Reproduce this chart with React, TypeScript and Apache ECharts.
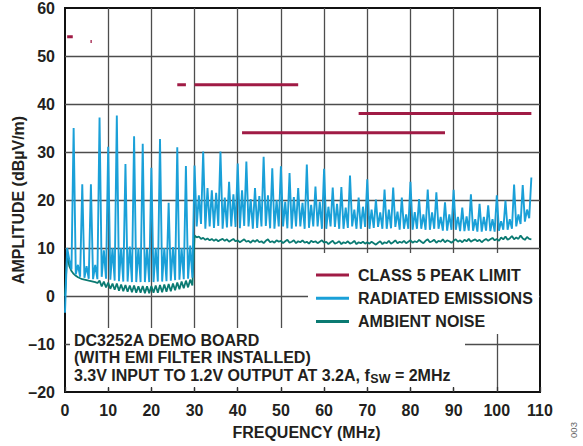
import React, { useEffect, useRef } from "react";
import * as echarts from "echarts";

const FONT = '"Liberation Sans", Arial, Helvetica, sans-serif';
const TEXT_COLOR = "#231f20";
const COLOR_LIMIT = "#a01b45";
const COLOR_EMISSIONS = "#1aa0d8";
const COLOR_AMBIENT = "#0a7a72";

const FREQ_STEP = 0.5; // MHz between samples
const SPLIT_FREQ = 30; // MHz where second data block starts

const X_TICKS = { min: 0, max: 110, interval: 10 };
const Y_TICKS = { min: -20, max: 60, interval: 10 };

// Radiated emissions, 0 .. 29.5 MHz
const EMISSIONS_0_30 = [
  -3.5, 10, 7.5, 5.5, 35, 4.5, 6.5, 4.0,
  23.3, 3.8, 6.2, 3.6, 23.3, 3.5, 6.5, 3.5,
  37.2, 4, 9.5, 3.6, 31.1, 3.4, 10, 3.2,
  37.6, 3.1, 10, 3.0, 27.5, 3.0, 10.3, 2.9,
  33.3, 2.9, 10, 2.9, 31.7, 2.9, 9.8, 2.9,
  26.7, 2.9, 10, 3.0, 32.7, 3.0, 10, 3.1,
  19.4, 3.2, 10.2, 3.3, 31, 3.4, 10, 3.5,
  27.1, 3.6, 10.5, 3.8,
];

// Radiated emissions, 30 .. 108 MHz
const EMISSIONS_30_108 = [
  27.2, 14.5, 21.0, 15.0,
  30.1, 14.0, 22.5, 14.5,
  22.0, 14.2, 21.5, 14.6,
  30.1, 14.0, 20.5, 14.3,
  23.8, 14.5, 21.2, 14.4,
  27.6, 14.1, 22.0, 14.6,
  28.0, 14.5, 20.2, 14.0,
  22.5, 14.2, 20.8, 14.5,
  29.0, 14.6, 21.0, 14.1,
  26.6, 14.0, 20.0, 14.5,
  27.0, 14.5, 19.6, 14.1,
  25.6, 14.0, 20.6, 14.5,
  22.5, 14.5, 19.4, 14.0,
  27.4, 14.2, 19.0, 14.5,
  22.8, 14.5, 19.6, 14.0,
  26.5, 14.0, 18.6, 14.5,
  22.6, 14.4, 19.2, 14.0,
  22.7, 14.0, 18.4, 14.2,
  25.1, 14.5, 18.0, 14.0,
  20.5, 14.0, 18.6, 14.4,
  24.3, 14.0, 18.0, 14.2,
  20.1, 14.4, 17.4, 14.0,
  22.2, 14.0, 18.0, 14.1,
  22.6, 14.4, 17.6, 13.8,
  20.5, 14.0, 17.0, 14.0,
  23.8, 13.8, 17.5, 14.0,
  20.2, 14.0, 17.0, 13.8,
  22.2, 13.8, 17.4, 14.0,
  21.6, 14.0, 16.5, 13.6,
  19.5, 13.6, 17.0, 13.8,
  22.1, 13.8, 16.5, 13.5,
  18.4, 13.5, 16.6, 13.6,
  21.2, 13.6, 16.0, 13.4,
  19.2, 13.4, 16.5, 13.6,
  18.9, 13.5, 16.0, 13.4,
  21.0, 13.6, 15.6, 13.8,
  19.9, 13.8, 16.0, 14.0,
  23.2, 14.5, 17.0, 15.0,
  23.1, 15.5, 18.0, 16.2,
  24.7,
];

// Ambient noise, 0 .. 29.5 MHz
const AMBIENT_0_30 = [
  0, 8.8, 6.2, 5.2, 4.6, 4.2, 3.9, 3.7,
  3.5, 3.4, 3.3, 3.2, 3.1, 3.0, 2.9, 2.7,
  3.2, 2.0, 3.0, 1.8, 2.8, 1.5, 2.6, 1.3,
  2.6, 1.1, 2.4, 1.0, 2.3, 0.9, 2.2, 0.8,
  2.2, 0.7, 2.0, 0.7, 2.1, 0.6, 2.0, 0.6,
  2.1, 0.7, 2.2, 0.7, 2.3, 0.8, 2.4, 0.9,
  2.5, 1.0, 2.6, 1.2, 2.8, 1.4, 3.0, 1.6,
  3.2, 1.8, 3.4, 2.2,
];

// Ambient noise, 30 .. 108 MHz
const AMBIENT_30_108 = [
  12.6, 12.2, 12.4, 11.9, 12.1, 11.7, 12.0, 11.6, 11.9, 11.5,
  11.8, 11.4, 11.7, 11.9, 11.5, 11.8, 11.3, 11.6, 11.9, 11.4,
  11.6, 11.2, 11.5, 11.8, 11.3, 11.5, 11.1, 11.6, 11.3, 11.7,
  11.2, 11.4, 11.0, 11.5, 11.8, 11.2, 11.4, 11.1, 11.6, 11.3,
  11.5, 11.0, 11.4, 11.7, 11.1, 11.3, 11.6, 11.0, 11.4, 11.2,
  11.6, 11.1, 11.3, 10.9, 11.5, 11.2, 11.4, 11.0, 11.3, 11.6,
  11.1, 11.3, 10.8, 11.2, 11.5, 10.9, 11.1, 11.4, 10.8, 11.2,
  11.0, 11.4, 10.9, 11.1, 11.5, 10.8, 11.2, 11.0, 11.3, 10.9,
  11.2, 10.9, 11.3, 11.0, 10.7, 11.1, 11.4, 10.8, 11.2, 11.0,
  11.5, 10.9, 11.2, 11.6, 11.0, 11.3, 11.1, 11.5, 11.0, 11.3,
  11.6, 11.1, 11.4, 11.2, 11.7, 11.3, 11.0, 11.5, 11.8, 11.2,
  11.4, 11.7, 11.1, 11.5, 11.3, 11.8, 11.2, 11.6, 11.4, 11.1,
  11.5, 11.8, 11.3, 11.6, 11.2, 11.7, 11.4, 11.9, 11.3, 11.6,
  11.8, 11.4, 11.7, 11.2, 11.6, 11.9, 11.5, 11.8, 12.1, 11.6,
  11.9, 11.5, 12.2, 11.8, 12.4, 11.7, 12.0, 12.5, 11.8, 12.2,
  11.9, 12.6, 12.0, 11.7, 12.3, 11.9, 11.8,
];

// CLASS 5 peak limit segments: [startMHz, endMHz, dBµV/m]
const LIMIT_SEGMENTS = [
  [0.5, 1.8, 54],
  [5.9, 6.2, 53],
  [26, 28, 44],
  [30, 54, 44],
  [41, 88, 34],
  [68, 108, 38],
];

const NAME_LIMIT = "CLASS 5 PEAK LIMIT";
const NAME_EMISSIONS = "RADIATED EMISSIONS";
const NAME_AMBIENT = "AMBIENT NOISE";

const toPairs = (low: number[], high: number[]) => [
  ...low.map((v, i) => [i * FREQ_STEP, v]),
  ...high.map((v, i) => [SPLIT_FREQ + i * FREQ_STEP, v]),
];

export default function App() {
  const ref = useRef<HTMLDivElement>(null);

  useEffect(() => {
    if (!ref.current) return;
    const chart = echarts.init(ref.current, null, { renderer: "svg" });

    const labelStyle = {
      fontSize: 16,
      fontWeight: "bold" as const,
      color: TEXT_COLOR,
      fontFamily: FONT,
    };

    const limitSeries = LIMIT_SEGMENTS.map(([a, b, v]) => ({
      type: "line",
      name: NAME_LIMIT,
      data: [
        [a, v],
        [b, v],
      ],
      symbol: "none",
      showSymbol: false,
      color: COLOR_LIMIT,
      lineStyle: { color: COLOR_LIMIT, width: 3 },
      z: 4,
      silent: true,
    }));

    const option: any = {
      animation: false,
      grid: {
        left: 65,
        top: 8,
        right: 43,
        bottom: 54,
        containLabel: false,
        outerBoundsMode: "none",
        show: true,
        borderColor: "#111",
        borderWidth: 2,
        backgroundColor: "transparent",
      },
      xAxis: [
        {
          type: "value",
          ...X_TICKS,
          name: "FREQUENCY (MHz)",
          nameLocation: "middle",
          nameGap: 32,
          nameMoveOverlap: false,
          nameTextStyle: { ...labelStyle, padding: [0, 0, 0, 8] },
          axisLine: { show: false, onZero: false },
          axisTick: { show: false },
          axisLabel: { ...labelStyle, margin: 10 },
          splitLine: {
            show: true,
            showMinLine: false,
            showMaxLine: false,
            lineStyle: { color: "#4d4d4d", width: 1.3 },
          },
        },
        {
          type: "value",
          ...X_TICKS,
          position: "bottom",
          z: 5,
          axisLine: { show: false, onZero: false },
          axisTick: {
            show: true,
            inside: true,
            length: 5,
            lineStyle: { color: "#333", width: 1.3 },
          },
          axisLabel: { show: false },
          splitLine: { show: false },
        },
      ],
      yAxis: [
        {
          type: "value",
          ...Y_TICKS,
          name: "AMPLITUDE (dBµV/m)",
          nameLocation: "middle",
          nameRotate: 90,
          nameGap: 38.5,
          nameMoveOverlap: false,
          nameTextStyle: labelStyle,
          axisLine: { show: false, onZero: false },
          axisTick: { show: false },
          axisLabel: {
            ...labelStyle,
            margin: 10,
            formatter: (v: number) => (v < 0 ? "\u2013" + Math.abs(v) : String(v)),
          },
          splitLine: {
            show: true,
            showMinLine: false,
            showMaxLine: false,
            lineStyle: { color: "#4d4d4d", width: 1.3 },
          },
        },
      ],
      legend: {
        data: [NAME_LIMIT, NAME_EMISSIONS, NAME_AMBIENT],
        orient: "vertical",
        left: 316,
        top: 267,
        padding: 0,
        itemWidth: 33,
        itemHeight: 3,
        itemGap: 7.3,
        icon: "rect",
        selectedMode: false,
        textStyle: { ...labelStyle, padding: [0, 0, 0, 4] },
      },
      graphic: [
        {
          type: "rect",
          z: 1,
          shape: { x: 308, y: 253, width: 231, height: 81 },
          style: { fill: "#ffffff" },
          silent: true,
        },
        {
          type: "rect",
          z: 1,
          shape: { x: 70, y: 328, width: 395, height: 60 },
          style: { fill: "#ffffff" },
          silent: true,
        },
        {
          type: "text",
          z: 6,
          x: 74,
          y: 332,
          style: {
            text:
              "{a|DC3252A DEMO BOARD}\n{a|(WITH EMI FILTER INSTALLED)}\n{a|3.3V INPUT TO 1.2V OUTPUT AT 3.2A, f}{s|SW}{a| = 2MHz}",
            align: "left",
            verticalAlign: "top",
            rich: {
              a: {
                fontSize: 16,
                fontWeight: "bold",
                fontFamily: FONT,
                fill: TEXT_COLOR,
                lineHeight: 17.3,
              },
              s: {
                fontSize: 12.5,
                fontWeight: "bold",
                fontFamily: FONT,
                fill: TEXT_COLOR,
                lineHeight: 10.3,
                padding: [7, 0, 0, 0],
              },
            },
          },
        },
        {
          type: "text",
          z: 6,
          x: 573,
          y: 430,
          rotation: Math.PI / 2,
          style: {
            text: "003",
            fontSize: 9.5,
            fontFamily: FONT,
            fill: "#666",
            align: "center",
            verticalAlign: "middle",
          },
        },
      ],
      series: [
        {
          type: "line",
          name: NAME_AMBIENT,
          data: toPairs(AMBIENT_0_30, AMBIENT_30_108),
          symbol: "none",
          showSymbol: false,
          color: COLOR_AMBIENT,
          lineStyle: { color: COLOR_AMBIENT, width: 1.8 },
          z: 2,
          silent: true,
        },
        {
          type: "line",
          name: NAME_EMISSIONS,
          data: toPairs(EMISSIONS_0_30, EMISSIONS_30_108),
          symbol: "none",
          showSymbol: false,
          color: COLOR_EMISSIONS,
          lineStyle: { color: COLOR_EMISSIONS, width: 1.9 },
          z: 3,
          silent: true,
        },
        ...limitSeries,
      ],
    };

    chart.setOption(option);
    return () => chart.dispose();
  }, []);

  return (
    <div
      ref={ref}
      style={{ position: "fixed", left: 0, top: 0, width: 583, height: 446, background: "#fff" }}
    />
  );
}
